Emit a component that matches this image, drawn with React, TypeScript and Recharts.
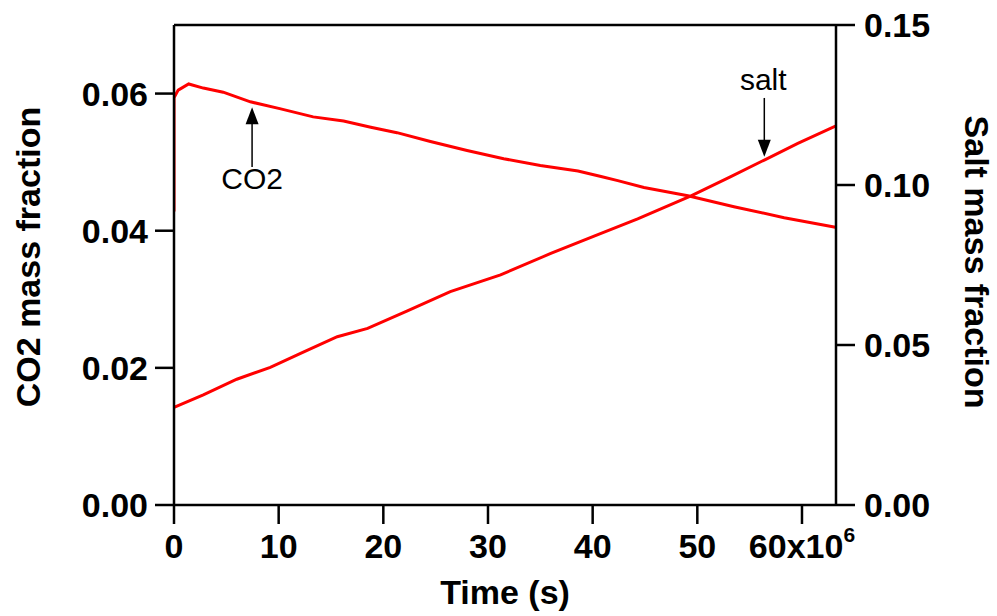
import React from 'react';
import { LineChart, Line, XAxis, YAxis, ReferenceLine, ReferenceDot } from 'recharts';

// time is in units of 10^6 s
const co2Time = [0, 0, 0.4, 1.4, 2.8, 4.7, 7.3, 10.1, 13.3, 16.2, 18.8, 21.3, 24.5, 28.0, 31.5, 35.0, 38.6, 40.8, 42.4, 44.9, 49.1, 53.5, 58.3, 63.2];
const co2Fraction = [0.0428, 0.0594, 0.0605, 0.0614, 0.0608, 0.0602, 0.0588, 0.0578, 0.0566, 0.0560, 0.0551, 0.0543, 0.0530, 0.0517, 0.0505, 0.0495, 0.0487, 0.0479, 0.0473, 0.0463, 0.0451, 0.0435, 0.0419, 0.0405];

const saltTime = [0, 2.8, 6.0, 9.2, 12.3, 15.6, 18.5, 22.3, 26.4, 31.2, 36.0, 40.8, 44.3, 49.4, 53.2, 56.4, 59.6, 63.2];
const saltFraction = [0.0305, 0.0344, 0.0393, 0.0430, 0.0477, 0.0526, 0.0552, 0.0607, 0.0667, 0.0719, 0.0786, 0.0849, 0.0894, 0.0966, 0.1026, 0.1078, 0.1130, 0.1184];

const timeTicks = [0, 10, 20, 30, 40, 50, 60];
const co2Ticks = [0, 0.02, 0.04, 0.06];
const saltTicks = [0, 0.05, 0.1, 0.15];

const co2Data = co2Time.map((t, i) => ({ t, co2: co2Fraction[i] }));
const saltData = saltTime.map((t, i) => ({ t, salt: saltFraction[i] }));

const FONT = 'Arial, "Liberation Sans", Helvetica, sans-serif';
const RED = '#ff0000';

const tickStyle = { fontSize: 34, fontWeight: 700, fill: '#000', fontFamily: FONT };
const axisStroke = { stroke: '#000', strokeWidth: 2.5 };

const TimeTick = (props: any) => {
  const { x, y, payload } = props;
  const v = payload.value;
  return (
    <text x={x} y={y} dy="0.71em" textAnchor="middle" {...tickStyle}>
      {v === 60 ? (
        <>
          <tspan>60x10</tspan>
          <tspan dy={-16} fontSize={21}>6</tspan>
        </>
      ) : (
        <tspan>{v}</tspan>
      )}
    </text>
  );
};

// vertical annotation arrow, head at the second segment point
const Arrow = (props: any) => {
  const { x1, y1, x2, y2 } = props;
  const dir = Math.sign(y2 - y1) || 1;
  return (
    <g>
      <line x1={x1} y1={y1} x2={x2} y2={y2 - dir * 14} stroke="#000" strokeWidth={1.5} />
      <polygon points={`${x2},${y2} ${x2 - 6.5},${y2 - dir * 17} ${x2 + 6.5},${y2 - dir * 17}`} fill="#000" />
    </g>
  );
};

const noteText = (text: string) => (p: any) => (
  <text x={p.cx} y={p.cy} textAnchor="middle" fontSize={30} fontFamily={FONT} fill="#000">
    {text}
  </text>
);

export default function App() {
  return (
    <div style={{ position: 'absolute', left: 0, top: 0, background: '#fff' }}>
      <LineChart width={997} height={616} margin={{ top: 25, right: 0, bottom: 0, left: 0 }}>
        <XAxis
          dataKey="t"
          type="number"
          domain={[0, 63.25]}
          allowDataOverflow
          ticks={timeTicks}
          tick={<TimeTick />}
          tickSize={19}
          tickMargin={10}
          axisLine={axisStroke}
          tickLine={axisStroke}
          height={111}
          label={{
            content: () => (
              <text x={505} y={604} textAnchor="middle" fontSize={34} fontWeight={700} fontFamily={FONT} fill="#000">
                Time (s)
              </text>
            ),
          }}
        />
        <YAxis
          yAxisId="left"
          type="number"
          domain={[0, 0.07]}
          allowDataOverflow
          ticks={co2Ticks}
          tickFormatter={(v: number) => v.toFixed(2)}
          tick={tickStyle}
          tickSize={19}
          tickMargin={7}
          axisLine={axisStroke}
          tickLine={axisStroke}
          width={174}
          label={{
            content: () => (
              <text x={28} y={257} transform="rotate(-90 28 257)" textAnchor="middle" dominantBaseline="central"
                fontSize={34} fontWeight={700} fontFamily={FONT} fill="#000">
                CO2 mass fraction
              </text>
            ),
          }}
        />
        <YAxis
          yAxisId="right"
          orientation="right"
          type="number"
          domain={[0, 0.15]}
          allowDataOverflow
          ticks={saltTicks}
          tickFormatter={(v: number) => v.toFixed(2)}
          tick={tickStyle}
          tickSize={19}
          tickMargin={9}
          axisLine={axisStroke}
          tickLine={axisStroke}
          width={161}
          label={{
            content: () => (
              <text x={977} y={262} transform="rotate(90 977 262)" textAnchor="middle" dominantBaseline="central"
                fontSize={34} fontWeight={700} fontFamily={FONT} fill="#000">
                Salt mass fraction
              </text>
            ),
          }}
        />
        {/* top frame */}
        <ReferenceLine yAxisId="left" y={0.07} stroke="#000" strokeWidth={2.5} />

        <Line data={co2Data} dataKey="co2" yAxisId="left" type="linear" stroke={RED} strokeWidth={3}
          dot={false} isAnimationActive={false} />
        <Line data={saltData} dataKey="salt" yAxisId="right" type="linear" stroke={RED} strokeWidth={3}
          dot={false} isAnimationActive={false} />

        <ReferenceLine yAxisId="left" segment={[{ x: 7.46, y: 0.0493 }, { x: 7.46, y: 0.0580 }]} shape={Arrow} />
        <ReferenceDot yAxisId="left" x={7.46} y={0.0461} shape={noteText('CO2')} />

        <ReferenceLine yAxisId="right" segment={[{ x: 56.4, y: 0.1272 }, { x: 56.4, y: 0.1088 }]} shape={Arrow} />
        <ReferenceDot yAxisId="right" x={56.3} y={0.1297} shape={noteText('salt')} />
      </LineChart>
    </div>
  );
}
